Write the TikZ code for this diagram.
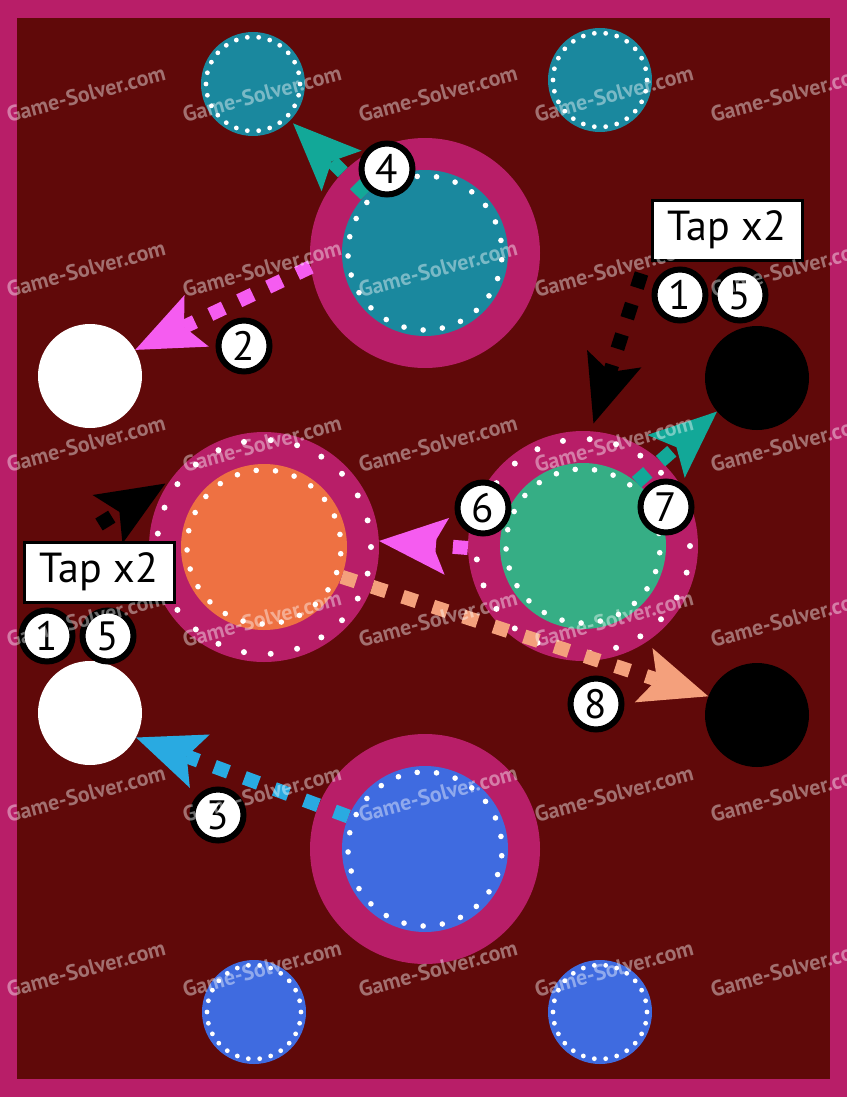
\documentclass[tikz,border=0pt]{standalone}
\usepackage{fontspec}
\setmainfont{PT Sans}
\usetikzlibrary{arrows.meta}
\definecolor{rim}{RGB}{184,30,104}
\definecolor{board}{RGB}{96,9,9}
\definecolor{tealpc}{RGB}{26,136,158}
\definecolor{bluepc}{RGB}{63,107,224}
\definecolor{orangepc}{RGB}{238,113,66}
\definecolor{greenpc}{RGB}{54,174,133}
\definecolor{arrteal}{RGB}{18,168,152}
\definecolor{arrpink}{RGB}{245,92,240}
\definecolor{arrsalmon}{RGB}{244,160,124}
\definecolor{arrblue}{RGB}{41,170,225}

\begin{document}
\begin{tikzpicture}[x=1pt,y=-1pt,
  disc/.style={circle,inner sep=0pt,minimum size=#1},
  numtag/.style={circle,draw=black,line width=6pt,fill=white,inner sep=0pt,minimum size=51pt,font=\fontsize{41}{41}\selectfont},
  tapbox/.style={draw=black,line width=3pt,fill=white,inner sep=0pt,minimum width=150pt,minimum height=60pt,font=\fontsize{42}{42}\selectfont},
  movearrow/.style={draw=#1,line width=14pt,dash pattern=on 15pt off 17pt,-{Stealth[length=68pt,width=57pt,inset=14pt,line width=0pt]}},
  wmark/.style={rotate=15,text=white,text opacity=0.42,font=\fontsize{22}{22}\selectfont\bfseries,inner sep=0pt}]
\useasboundingbox (0,0) rectangle (847,1097);
\clip (0,0) rectangle (847,1097);
% board
\fill[rim] (0,0) rectangle (847,1097);
\fill[board] (17,18) rectangle (830,1079);
% small pieces
\node[disc=104pt,fill=tealpc] (tealS1) at (253,84) {};
\node[disc=104pt,fill=tealpc] (tealS2) at (600,80) {};
\node[disc=104pt,fill=bluepc] (blueS1) at (254,1012) {};
\node[disc=104pt,fill=bluepc] (blueS2) at (600,1012) {};
\node[disc=104pt,fill=white] (whiteU) at (90,376) {};
\node[disc=104pt,fill=white] (whiteL) at (90,713) {};
\node[disc=104pt,fill=black] (blackU) at (757,378) {};
\node[disc=104pt,fill=black] (blackL) at (757,715) {};
% rings
\node[disc=230pt,fill=rim] (ringT) at (425,253) {};
\node[disc=166pt,fill=tealpc] (tealT) at (425,253) {};
\node[disc=230pt,fill=rim] (ringO) at (264,547) {};
\node[disc=166pt,fill=orangepc] (orangeO) at (264,547) {};
\node[disc=230pt,fill=rim] (ringG) at (583,546) {};
\node[disc=166pt,fill=greenpc] (greenG) at (583,546) {};
\node[disc=230pt,fill=rim] (ringB) at (425,849) {};
\node[disc=166pt,fill=bluepc] (blueB) at (425,849) {};
% dots
\foreach \p in {tealS1,tealS2,blueS1,blueS2}
  \foreach \i in {1,...,26} \fill[white] (\p) ++({\i*360/26}:47) circle (2.4pt);
\foreach \p in {tealT,orangeO,greenG,blueB}
  \foreach \i in {1,...,25} \fill[white] (\p) ++({\i*360/25+5}:77) circle (2.8pt);
\foreach \p in {ringO,ringG}
  \foreach \i in {1,...,25} \fill[white] (\p) ++({\i*360/25}:107) circle (3pt);
% tap boxes
\node[tapbox] (tapR) at (727,230) {Tap x2};
\node[tapbox] (tapL) at (99,572) {Tap x2};
% moves
\draw[movearrow=arrteal,shorten >=4pt] (tealT) -- (tealS1);
\draw[movearrow=arrpink] (ringT.187) -- (whiteU.30);
\draw[movearrow=black,shorten >=8pt] ([shift={(-9pt,-12pt)}]tapR.south west) -- (ringG.86);
\draw[movearrow=arrteal] (greenG.50) -- (blackU.220);
\draw[movearrow=black,shorten >=5pt] ([yshift=16pt]tapL.north) -- (ringO.145);
\draw[movearrow=arrpink] (ringG.181) -- (ringO.3);
\draw[movearrow=arrsalmon] (orangeO.-21) -- (blackL.159);
\draw[movearrow=arrblue] (blueB.157) -- (whiteL.-28);
% step numbers
\node[numtag] (n1R) at (680,295) {1};
\node[numtag] (n5R) at (740,295) {5};
\node[numtag] (n1L) at (47,636) {1};
\node[numtag] (n5L) at (108,636) {5};
\node[numtag] (n2) at (244,346) {2};
\node[numtag] (n3) at (218,815) {3};
\node[numtag] (n4) at (387,169) {4};
\node[numtag] (n6) at (483,508) {6};
\node[numtag] (n7) at (666,507) {7};
\node[numtag] (n8) at (596,704) {8};
% watermark
\foreach \i in {0,...,4}
  \foreach \j in {0,...,5}
    \node[wmark] (wm\i\j) at ({86+176*\i},{94+175*\j}) {Game-Solver.com};
\end{tikzpicture}
\end{document}
